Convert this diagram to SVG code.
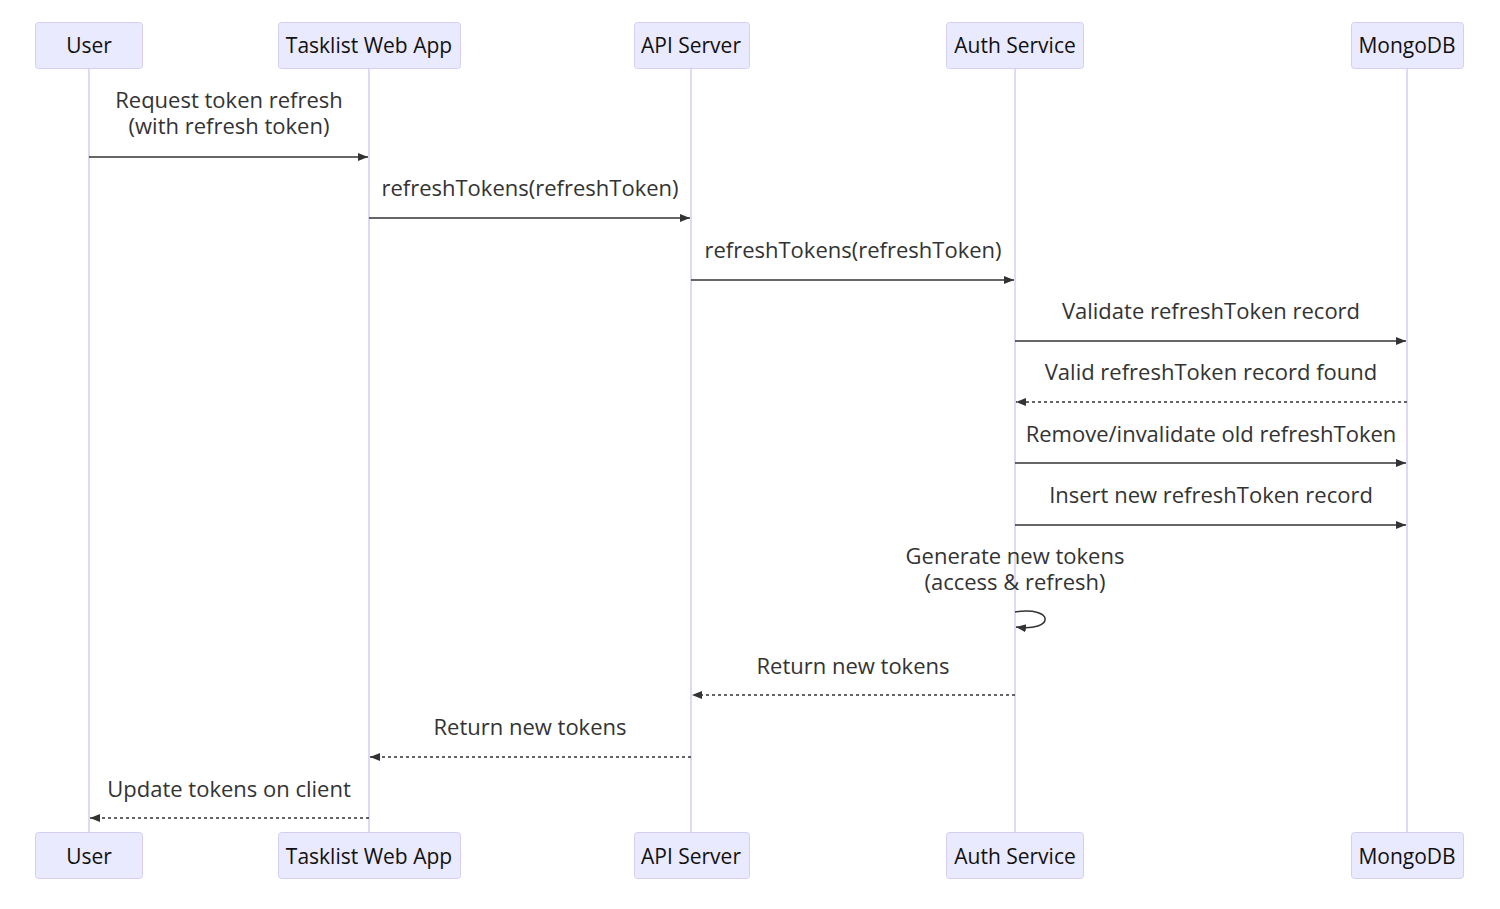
<svg xmlns="http://www.w3.org/2000/svg" width="1500" height="909" viewBox="0 0 1500 909">
<defs>
<style>
.actor{fill:#eaeaff;stroke:#d5cdf3;stroke-width:1}
.atext{font-family:"Open Sans","Liberation Sans",sans-serif;font-size:21px;fill:#111;text-anchor:middle;dominant-baseline:central}
.life{stroke:#d5cdf3;stroke-width:1.5}
.msg{stroke:#333;stroke-width:1.5;fill:none}
.dash{stroke-dasharray:3,3}
.mtext{font-family:"Open Sans","Liberation Sans",sans-serif;font-size:22px;fill:#333;text-anchor:middle}
</style>
<marker id="ah" markerWidth="12" markerHeight="10" refX="10" refY="4" orient="auto" markerUnits="userSpaceOnUse">
<path d="M0,0 L10,4 L0,8 z" fill="#333"/>
</marker>
</defs>
<rect width="1500" height="909" fill="#fff"/>
<g id="lifelines">
<line class="life" x1="89" y1="68" x2="89" y2="832"/>
<line class="life" x1="369" y1="68" x2="369" y2="832"/>
<line class="life" x1="691" y1="68" x2="691" y2="832"/>
<line class="life" x1="1015" y1="68" x2="1015" y2="832"/>
<line class="life" x1="1407" y1="68" x2="1407" y2="832"/>
</g>
<g id="user">
<rect class="actor" x="35.5" y="22.5" width="107" height="46" rx="3"/>
<text class="atext" x="89" y="45">User</text>
<rect class="actor" x="35.5" y="832.5" width="107" height="46" rx="3"/>
<text class="atext" x="89" y="856">User</text>
</g>
<g id="webapp">
<rect class="actor" x="278.5" y="22.5" width="182" height="46" rx="3"/>
<text class="atext" x="369" y="45">Tasklist Web App</text>
<rect class="actor" x="278.5" y="832.5" width="182" height="46" rx="3"/>
<text class="atext" x="369" y="856">Tasklist Web App</text>
</g>
<g id="api">
<rect class="actor" x="634.5" y="22.5" width="115" height="46" rx="3"/>
<text class="atext" x="691" y="45">API Server</text>
<rect class="actor" x="634.5" y="832.5" width="115" height="46" rx="3"/>
<text class="atext" x="691" y="856">API Server</text>
</g>
<g id="auth">
<rect class="actor" x="946.5" y="22.5" width="137" height="46" rx="3"/>
<text class="atext" x="1015" y="45">Auth Service</text>
<rect class="actor" x="946.5" y="832.5" width="137" height="46" rx="3"/>
<text class="atext" x="1015" y="856">Auth Service</text>
</g>
<g id="mongo">
<rect class="actor" x="1351.5" y="22.5" width="112" height="46" rx="3"/>
<text class="atext" x="1407" y="45">MongoDB</text>
<rect class="actor" x="1351.5" y="832.5" width="112" height="46" rx="3"/>
<text class="atext" x="1407" y="856">MongoDB</text>
</g>
<g id="connectors">
<line class="msg" x1="89" y1="157" x2="368" y2="157" marker-end="url(#ah)"/>
<text class="mtext" x="229" y="108">Request token refresh</text>
<text class="mtext" x="229" y="134">(with refresh token)</text>
<line class="msg" x1="369" y1="218" x2="690" y2="218" marker-end="url(#ah)"/>
<text class="mtext" x="530" y="196">refreshTokens(refreshToken)</text>
<line class="msg" x1="691" y1="280" x2="1014" y2="280" marker-end="url(#ah)"/>
<text class="mtext" x="853" y="258">refreshTokens(refreshToken)</text>
<line class="msg" x1="1015" y1="341" x2="1406" y2="341" marker-end="url(#ah)"/>
<text class="mtext" x="1211" y="319">Validate refreshToken record</text>
<line class="msg dash" x1="1407" y1="402" x2="1016" y2="402" marker-end="url(#ah)"/>
<text class="mtext" x="1211" y="380">Valid refreshToken record found</text>
<line class="msg" x1="1015" y1="463" x2="1406" y2="463" marker-end="url(#ah)"/>
<text class="mtext" x="1211" y="442">Remove/invalidate old refreshToken</text>
<line class="msg" x1="1015" y1="525" x2="1406" y2="525" marker-end="url(#ah)"/>
<text class="mtext" x="1211" y="503">Insert new refreshToken record</text>
<path class="msg" d="M1015,612 C1055,606 1055,632 1016,627" marker-end="url(#ah)"/>
<text class="mtext" x="1015" y="564">Generate new tokens</text>
<text class="mtext" x="1015" y="590">(access &amp; refresh)</text>
<line class="msg dash" x1="1015" y1="695" x2="692" y2="695" marker-end="url(#ah)"/>
<text class="mtext" x="853" y="674">Return new tokens</text>
<line class="msg dash" x1="691" y1="757" x2="370" y2="757" marker-end="url(#ah)"/>
<text class="mtext" x="530" y="735">Return new tokens</text>
<line class="msg dash" x1="369" y1="818" x2="90" y2="818" marker-end="url(#ah)"/>
<text class="mtext" x="229" y="797">Update tokens on client</text>
</g>
</svg>
